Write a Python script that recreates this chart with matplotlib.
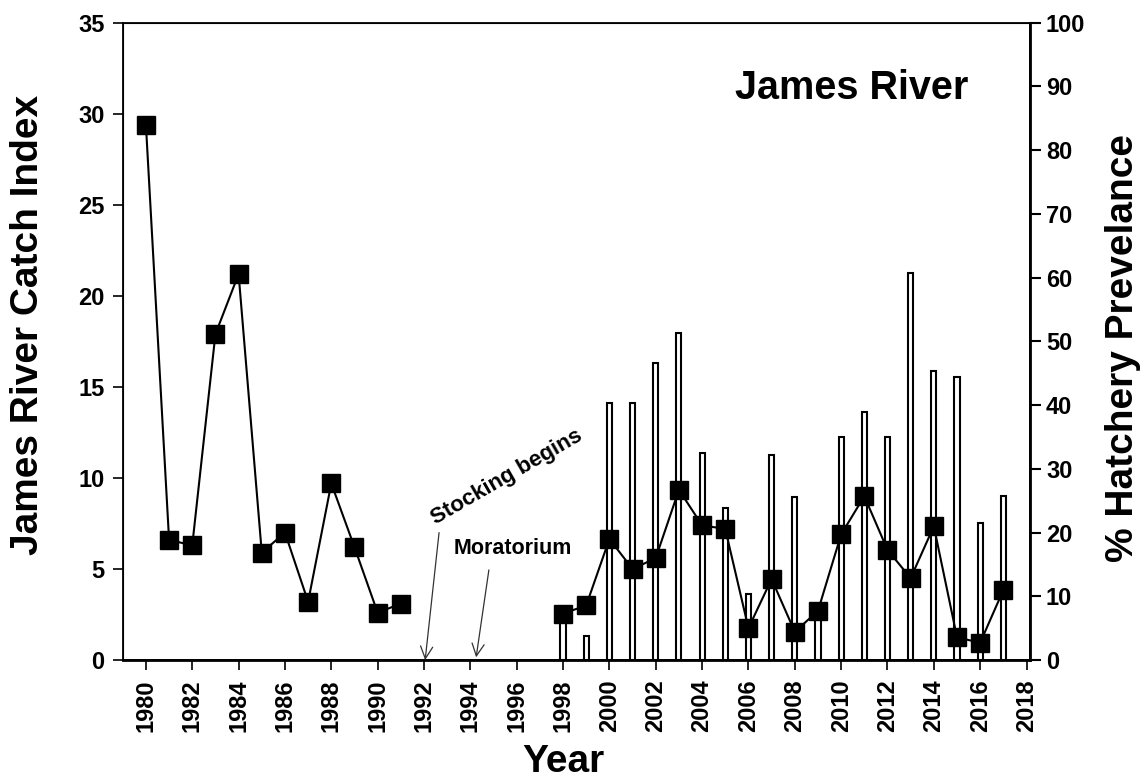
import numpy as np
import matplotlib
matplotlib.use("Agg")
import matplotlib.pyplot as plt

plt.rcParams['font.family'] = ['Liberation Sans', 'DejaVu Sans']
plt.rcParams['font.weight'] = 'bold'

# catch index (left axis)
catch_years = [1980, 1981, 1982, 1983, 1984, 1985, 1986, 1987, 1988, 1989, 1990, 1991,
               1998, 1999, 2000, 2001, 2002, 2003, 2004, 2005, 2006, 2007, 2008, 2009,
               2010, 2011, 2012, 2013, 2014, 2015, 2016, 2017]
catch_index = [29.4, 6.6, 6.3, 17.9, 21.2, 5.9, 7.0, 3.2, 9.7, 6.2, 2.6, 3.1,
               2.55, 3.0, 6.65, 5.0, 5.6, 9.35, 7.4, 7.2, 1.75, 4.45, 1.55, 2.7,
               6.9, 9.0, 6.05, 4.5, 7.35, 1.25, 0.95, 3.85]

# hatchery prevalence (right axis)
hatch_years = list(range(1998, 2018))
hatch_pct = [7.4, 3.8, 40.3, 40.3, 46.6, 51.3, 32.5, 23.9, 10.4, 32.2,
             25.6, 8.5, 35.0, 38.9, 35.0, 60.7, 45.4, 44.4, 21.5, 25.7]

year_ticks = list(range(1980, 2019, 2))

fig = plt.figure(figsize=(11.47, 7.83), dpi=100)
ax = fig.add_axes([0.107, 0.157, 0.791, 0.814])
ax2 = ax.twinx()

# bars on right axis, drawn behind the line
ax2.bar(hatch_years, hatch_pct, width=0.22, color='white', edgecolor='black', linewidth=1.5, zorder=1)
ax2.set_ylim(0, 100)
ax2.set_yticks(range(0, 101, 10))
ax2.set_ylabel('% Hatchery Prevelance', fontsize=28, fontweight='bold')
ax2.yaxis.set_label_coords(1.0827, 0.489)

# put catch line on top of the bars
ax.set_zorder(ax2.get_zorder() + 1)
ax.patch.set_visible(False)
ax.plot(catch_years[:12], catch_index[:12], color='black', lw=1.5,
        marker='s', markersize=13, markerfacecolor='black', zorder=3)
ax.plot(catch_years[12:], catch_index[12:], color='black', lw=1.5,
        marker='s', markersize=13, markerfacecolor='black', zorder=3)

ax.set_xlim(1979, 2018.15)
ax.set_ylim(0, 35)
ax.set_yticks(range(0, 36, 5))
ax.set_xticks(year_ticks)
ax.set_xticklabels([str(y) for y in year_ticks], rotation=90)
ax.set_ylabel('James River Catch Index', fontsize=28, fontweight='bold')
ax.yaxis.set_label_coords(-0.085, 0.526)
ax.set_xlabel('Year', fontsize=28, fontweight='bold')
ax.xaxis.set_label_coords(0.486, -0.132)

ax.tick_params(axis='y', labelsize=17, width=1.2, length=7, pad=6)
ax.tick_params(axis='x', labelsize=17, width=1.2, length=7, pad=7)
ax2.tick_params(labelsize=17, width=1.5, length=8)
for s in ax.spines.values():
    s.set_linewidth(1.3)
ax2.spines['right'].set_linewidth(2)
ax2.spines['bottom'].set_linewidth(2)

ax.text(0.9317, 0.898, 'James River', transform=ax.transAxes, fontsize=28.5,
        fontweight='bold', ha='right', va='center')

# annotations
arrow = dict(arrowstyle='->', color='#333333', lw=0.9, mutation_scale=22, shrinkA=0, shrinkB=0)
ax.annotate('', xy=(1992.05, 0), xytext=(1992.65, 7.0), arrowprops=arrow)
ax.text(1992.5, 7.45, 'Stocking begins', fontsize=16, fontweight='bold',
        rotation=30, rotation_mode='anchor', ha='left', va='baseline')
ax.annotate('', xy=(1994.25, 0.15), xytext=(1994.8, 4.95), arrowprops=arrow)
ax.text(1993.3, 6.15, 'Moratorium', fontsize=15.5, fontweight='bold', ha='left', va='center')

fig.savefig('out.png', dpi=100)
